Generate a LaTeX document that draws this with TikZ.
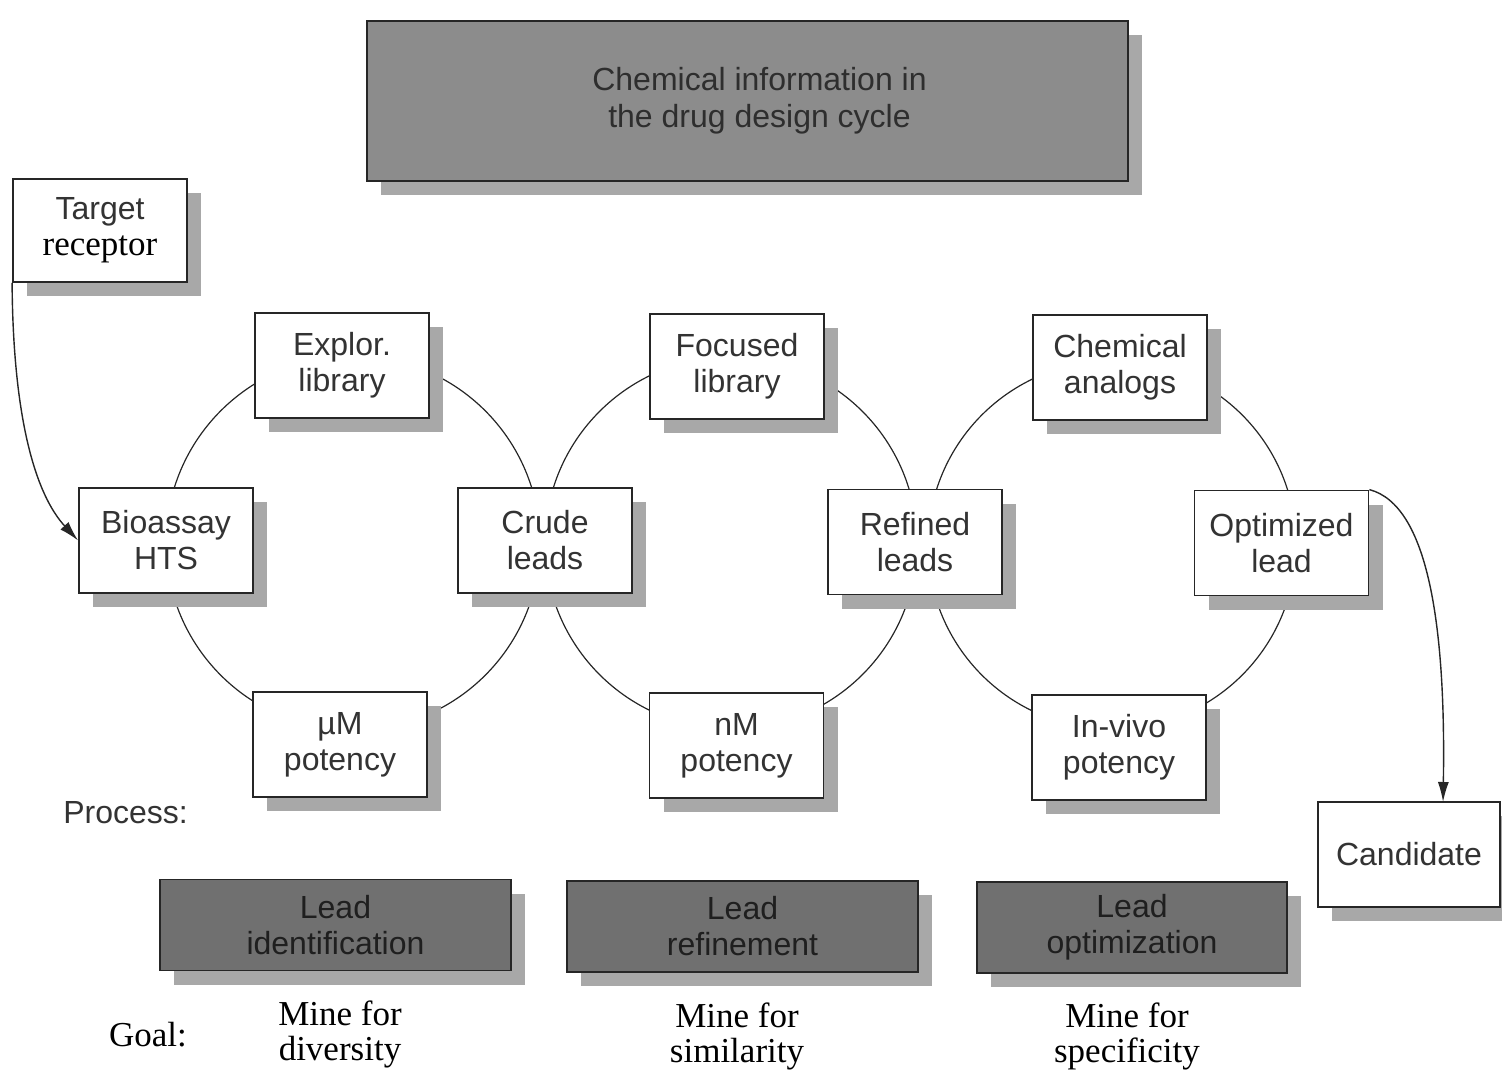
\documentclass[tikz,border=0pt]{standalone}
\usepackage{fontspec}
\setmainfont{Liberation Serif}
\setsansfont{Liberation Sans}
\usetikzlibrary{shadows,arrows.meta}
\definecolor{txt}{HTML}{333333}
\definecolor{shade}{HTML}{A8A8A8}
\definecolor{titlefill}{HTML}{8C8C8C}
\definecolor{stagefill}{HTML}{707070}
\begin{document}
\begin{tikzpicture}[x=0.5pt,y=-0.5pt,
  shadowed/.style={drop shadow={shadow xshift=7pt,shadow yshift=-7pt,fill=shade,opacity=1}},
  stepbox/.style={draw=black!85,line width=0.9pt,fill=white,shadowed,
    minimum width=87pt,minimum height=52.5pt,inner sep=0pt,align=center,
    text=txt,font=\sffamily\fontsize{16}{18}\selectfont},
  stagebox/.style={draw=black!85,line width=0.9pt,fill=stagefill,shadowed,
    minimum height=45.5pt,inner sep=0pt,align=center,
    text=black!88,font=\sffamily\fontsize{16}{18}\selectfont},
  goaltext/.style={align=center,inner sep=0pt,font=\fontsize{17.5}{17.5}\selectfont},
  cycle/.style={line width=0.6pt,draw=black!85},
  link/.style={line width=0.7pt,draw=black!85,-{Latex[length=10pt,width=5.5pt]}}]
\useasboundingbox (0,0) rectangle (1502,1071);

% the three cycles, drawn beneath the boxes
\draw[cycle] (353,543) circle[radius=93.5pt];
\draw[cycle] (731,543) circle[radius=93pt];
\draw[cycle] (1112,545) circle[radius=92pt];

% heading
\node[draw=black!85,line width=0.9pt,fill=titlefill,shadowed,minimum width=380.5pt,
  minimum height=80pt,align=center,text=black!82,
  font=\sffamily\fontsize{16}{18.5}\selectfont] (title) at (747.5,101)
  {\hspace*{12pt}Chemical information in\\\hspace*{12pt}the drug design cycle};

% entry and exit
\node[stepbox,minimum height=51.5pt] (target) at (100,230.5)
  {\raisebox{-3pt}{Target}\\[-1pt]{\rmfamily\color{black}\fontsize{17.5}{18}\selectfont\raisebox{-4pt}{receptor}}};
\node[stepbox,minimum width=91pt] (cand) at (1409,854.5) {Candidate};

% lead identification cycle
\node[stepbox] (bio) at (166,540.5) {Bioassay\\HTS};
\node[stepbox] (explor) at (342,365.5) {Explor.\\library};
\node[stepbox] (crude) at (545,540.5) {Crude\\leads};
\node[stepbox] (muM) at (340,744.5) {µM\\potency};

% lead refinement cycle
\node[stepbox] (focused) at (737,366.5) {Focused\\library};
\node[stepbox] (refined) at (915,542) {Refined\\leads};
\node[stepbox] (nM) at (736.5,745.5) {nM\\potency};

% lead optimization cycle
\node[stepbox] (chem) at (1120,367.5) {Chemical\\analogs};
\node[stepbox] (opt) at (1281.5,543) {Optimized\\lead};
\node[stepbox] (invivo) at (1119,747.5) {In-vivo\\potency};

% connectors
\coordinate (candin) at (1443,802);
\draw[link] (target.south west) .. controls (13,420) and (36,495) .. (bio.west);
\draw[link] (opt.north east) .. controls (1428,505) and (1446,625) .. (candin);

% process row
\node[anchor=west,inner sep=0pt,text=txt,font=\sffamily\fontsize{16}{18}\selectfont]
  (process) at (63,813) {Process:};
\node[stagebox,minimum width=175.5pt] (ident) at (335.5,925) {Lead\\identification};
\node[stagebox,minimum width=175.5pt] (refine) at (742.5,926.5) {Lead\\refinement};
\node[stagebox,minimum width=155pt] (optim) at (1132,927.5) {Lead\\optimization};

% goal row
\node[goaltext] (goal) at (148,1035) {Goal:};
\node[goaltext] (div) at (340,1034) {Mine for\\diversity};
\node[goaltext] (sim) at (737,1036) {Mine for\\similarity};
\node[goaltext] (spec) at (1127,1036) {Mine for\\specificity};
\end{tikzpicture}
\end{document}
